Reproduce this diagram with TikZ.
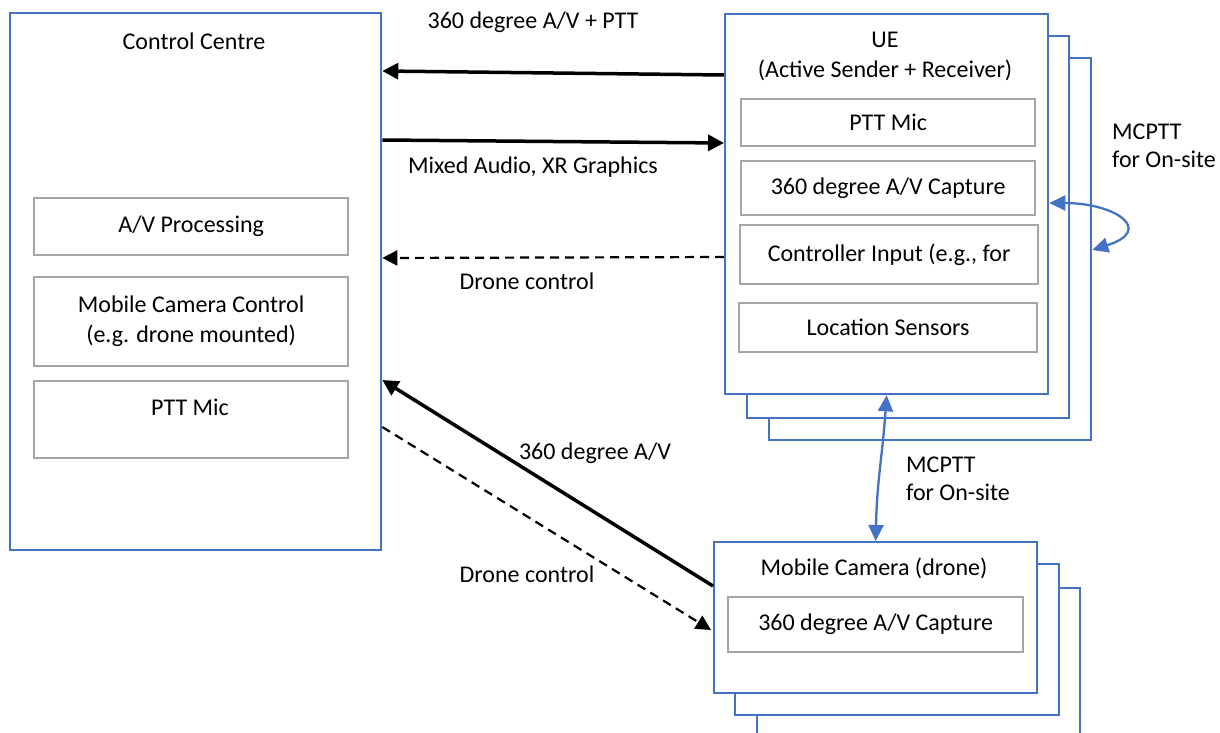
\documentclass[tikz,border=0pt]{standalone}
\usepackage{fontspec}
\setmainfont{Carlito}
\usetikzlibrary{arrows.meta,calc}
\definecolor{bl}{HTML}{4472C4}
\definecolor{gr}{HTML}{A5A5A5}
\begin{document}
\begin{tikzpicture}[x=1pt,y=-1pt,
  bluebox/.style={draw=bl,line width=2.3pt,fill=white,inner sep=0pt,anchor=north west},
  graybox/.style={draw=gr,line width=2.3pt,fill=white,inner sep=0pt,anchor=north west,align=center,font=\fontsize{24}{30}\selectfont},
  txt/.style={font=\fontsize{24}{30}\selectfont,align=center,inner sep=0pt},
  lbl/.style={font=\fontsize{24}{28}\selectfont,align=left,inner sep=0pt,anchor=west},
  solidarrow/.style={line width=3.5pt,-{Triangle[length=16pt,width=16pt]}},
  dasharrow/.style={line width=2.2pt,dash pattern=on 9pt off 6pt,-{Triangle[length=15pt,width=15pt]}},
  bluearrow/.style={draw=bl,line width=2.3pt,{Triangle[length=16pt,width=15pt]}-{Triangle[length=16pt,width=15pt]}}
]
\useasboundingbox (0,0) rectangle (1220,733);
\clip (0,0) rectangle (1220,733);

% Control Centre
\node[bluebox,minimum width=371pt,minimum height=537pt] (CC) at (9,12) {};
\node[txt] (cct) at (194,41) {Control Centre};
\node[graybox,minimum width=314pt,minimum height=57pt] (avp) at (33,197) {A/V Processing};
\node[graybox,minimum width=314pt,minimum height=89pt] (mcc) at (33,276) {Mobile Camera Control\\(e.g. drone mounted)};
\node[graybox,minimum width=314pt,minimum height=77pt] (pttcc) at (33,380) {};
\node[txt] (pttcct) at (190,407) {PTT Mic};

% UE stack
\node[bluebox,minimum width=322pt,minimum height=382pt] (UE3) at (768,57) {};
\node[bluebox,minimum width=322pt,minimum height=382pt] (UE2) at (746,35) {};
\node[bluebox,minimum width=323pt,minimum height=380pt] (UE) at (724,13) {};
\node[txt] (uet) at (885,56) {UE\\(Active Sender + Receiver)};
\node[graybox,minimum width=294pt,minimum height=47pt] (uptt) at (740,98) {PTT Mic};
\node[graybox,minimum width=294pt,minimum height=54pt] (ucap) at (740,160) {360 degree A/V Capture};
\node[graybox,minimum width=298pt,minimum height=59pt] (uctl) at (739,224) {Controller Input (e.g., for};
\node[graybox,minimum width=298pt,minimum height=49pt] (uloc) at (738,302) {Location Sensors};

% Mobile camera stack
\node[bluebox,minimum width=323pt,minimum height=200pt] (MC3) at (756,587) {};
\node[bluebox,minimum width=324pt,minimum height=151pt] (MC2) at (734,563) {};
\node[bluebox,minimum width=323pt,minimum height=151pt] (MC) at (713,541) {};
\node[txt] (mct) at (874,568) {Mobile Camera (drone)};
\node[graybox,minimum width=295pt,minimum height=55pt] (mcap) at (727,596) {360 degree A/V Capture};

% black connectors
\draw[solidarrow] ($(UE.north west)+(0,62)$) -- ($(CC.north east)+(0,59)$);
\draw[solidarrow] ($(CC.north east)+(0,128)$) -- ($(UE.north west)+(0,130)$);
\draw[dasharrow] ($(UE.north west)+(0,244)$) -- ($(CC.north east)+(0,246)$);
\draw[solidarrow] ($(MC.north west)+(0,45)$) -- ($(CC.north east)+(0,368)$);
\draw[dasharrow] ($(CC.north east)+(0,415)$) -- ($(MC.north west)+(-2,89)$);

\node[txt] (l1) at (533,22) {360 degree A/V + PTT};
\node[txt] (l2) at (533,167) {Mixed Audio, XR Graphics};
\node[txt] (l3) at (527,281) {Drone control};
\node[txt] (l4) at (595,453) {360 degree A/V};
\node[txt] (l5) at (527,574) {Drone control};

% blue connectors
\draw[bluearrow] (UE.south) .. controls (882,460) and (877,480) .. (MC.north);
\draw[bluearrow] ($(UE.north east)+(0,190)$) .. controls (1115,203) and (1155,230) .. ($(UE3.north east)+(0,193)$);
\node[lbl] (m1) at (906,479) {MCPTT\\for On-site};
\node[lbl] (m2) at (1112,146) {MCPTT\\for On-site};
\end{tikzpicture}
\end{document}
